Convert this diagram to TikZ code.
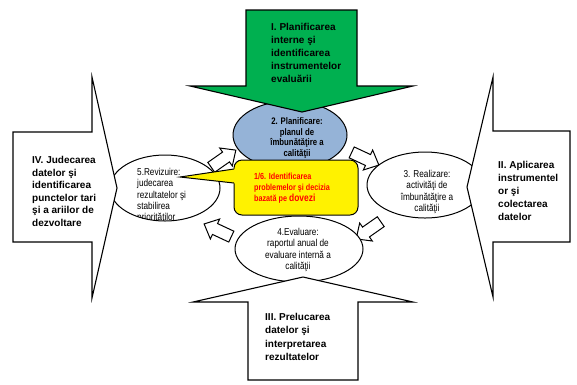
\documentclass[tikz,border=0pt]{standalone}
\usepackage{fontspec}
\setmainfont{Liberation Sans}
\newfontfamily\narrowfont[FakeStretch=0.82]{Liberation Sans}
\usetikzlibrary{shapes.geometric}
\definecolor{arrowgreen}{HTML}{00B050}
\definecolor{ellblue}{HTML}{95B3D7}
\begin{document}
\begin{tikzpicture}[x=1pt,y=-1pt,line join=miter,
  bigarrow/.style={draw=black, line width=1.1pt, fill=white},
  smallarrow/.style={draw=black, line width=1pt, fill=white},
  ell/.style={ellipse, draw=black, line width=1pt, fill=white, inner sep=0pt, outer sep=0pt},
  bigtext/.style={font=\fontsize{10}{13.2}\selectfont\bfseries, align=left, inner sep=0pt, anchor=west},
  elltext/.style={font=\narrowfont\fontsize{10}{11.2}\selectfont, align=center, inner sep=0pt}]
\useasboundingbox (0,0) rectangle (577,384);

% small cycle arrows
\foreach \px/\py/\ang in {226/157/35, 368/160/-25, 366/232/215, 215/229/155}
  \draw[smallarrow, shift={(\px,\py)}, rotate=\ang]
    (-18,-6) -- (0,-6) -- (0,-11) -- (12,0) -- (0,11) -- (0,6) -- (-18,6) -- cycle;

% ellipses
\node[ell, fill=ellblue, minimum width=114pt, minimum height=68pt] (e2) at (290,135) {};
\node[ell, minimum width=116pt, minimum height=66pt] (e3) at (425,185) {};
\node[ell, minimum width=128pt, minimum height=66pt] (e4) at (299,249) {};
\node[ell, minimum width=110pt, minimum height=66pt] (e5) at (165,188) {};

\node[elltext, font=\narrowfont\bfseries\fontsize{9.5}{10.4}\selectfont] (t2) at (297,138)
  {2. Planificare:\\planul de\\îmbunătăţire a\\calităţii};
\node[elltext] (t3) at (427,192) {3. Realizare:\\activităţi de\\îmbunătăţire a\\calităţii};
\node[elltext] (t4) at (298,250) {4.Evaluare:\\raportul anual de\\evaluare internă a\\calităţii};
\begin{scope}
  \clip (165,188) ellipse [x radius=55pt, y radius=33pt];
  \node[elltext, align=left, anchor=west] (t5) at (137,195.5)
    {5.Revizuire:\\judecarea\\rezultatelor şi\\stabilirea\\priorităţilor};
\end{scope}

% yellow callout
\node[draw=black, line width=1pt, fill=yellow, rounded corners=8pt, minimum width=124pt,
  minimum height=55pt, inner sep=0pt] (call) at (296,187.5) {};
\coordinate (ptip) at (180,177);
\fill[yellow] (ptip) -- (236,168.5) -- (236,183.5) -- cycle;
\draw[line width=1pt] (234,169) -- (ptip) -- (234,183);
\node[anchor=west, align=left, text=red, inner sep=0pt,
  font=\narrowfont\bfseries\fontsize{8.8}{11}\selectfont] (t1) at (254,188)
  {1/6. Identificarea\\problemelor şi decizia\\bazată pe {\fontsize{10.3}{11}\selectfont dovezi}};

% big arrows
\draw[bigarrow, fill=arrowgreen] (246,10) -- (357,10) -- (357,86) -- (413,86) -- (302,112)
  -- (190,86) -- (246,86) -- cycle;
\draw[bigarrow] (13,132) -- (92,132) -- (92,77) -- (117,188) -- (92,298) -- (92,242)
  -- (13,242) -- cycle;
\draw[bigarrow] (570,131) -- (493,131) -- (493,77) -- (467,187) -- (493,297) -- (493,242)
  -- (570,242) -- cycle;
\draw[bigarrow] (248,380) -- (358,380) -- (358,302) -- (413,302) -- (303,277) -- (193,302)
  -- (248,302) -- cycle;

\node[bigtext] (tI) at (271,53) {I. Planificarea\\interne şi\\identificarea\\instrumentelor\\evaluării};
\node[bigtext, font=\fontsize{10}{12.6}\selectfont\bfseries] (tIV) at (32,191.5)
  {IV. Judecarea\\datelor şi\\identificarea\\punctelor tari\\şi a ariilor de\\dezvoltare};
\node[bigtext, font=\fontsize{10}{13}\selectfont\bfseries] (tII) at (498,191)
  {II. Aplicarea\\instrumentel\\or şi\\colectarea\\datelor};
\node[bigtext, font=\fontsize{10}{13.3}\selectfont\bfseries] (tIII) at (265,337)
  {III. Prelucarea\\datelor şi\\interpretarea\\rezultatelor};
\end{tikzpicture}
\end{document}
